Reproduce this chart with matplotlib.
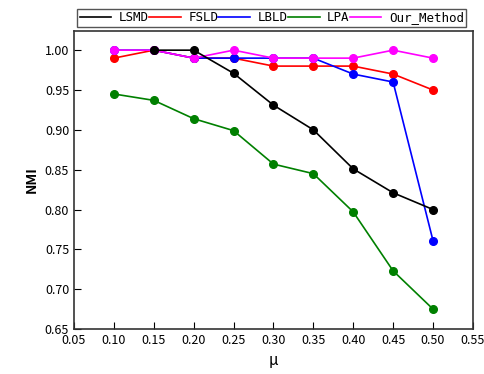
import matplotlib
matplotlib.use("Agg")
import matplotlib.pyplot as plt

plt.rcParams['font.family'] = ['Noto Sans CJK SC', 'DejaVu Sans']

# mixing parameter
mu = [0.10, 0.15, 0.20, 0.25, 0.30, 0.35, 0.40, 0.45, 0.50]

# LSMD has no visible point at 0.10
lsmd = [float('nan'), 1.00, 1.00, 0.971, 0.931, 0.90, 0.851, 0.821, 0.80]
fsld = [0.99, 1.00, 0.99, 0.99, 0.98, 0.98, 0.98, 0.97, 0.95]
lbld = [1.00, 1.00, 0.99, 0.99, 0.99, 0.99, 0.97, 0.96, 0.761]
lpa = [0.945, 0.937, 0.914, 0.899, 0.857, 0.845, 0.797, 0.723, 0.675]
ours = [1.00, 1.00, 0.99, 1.00, 0.99, 0.99, 0.99, 1.00, 0.99]

names = ["LSMD", "FSLD", "LBLD", "LPA", "Our_Method"]
colors = ["black", "red", "blue", "green", "magenta"]
series = [lsmd, fsld, lbld, lpa, ours]
# drawing order so overlapping points look like the original
zorders = [6, 3, 4, 3, 5]

xticks = [0.05, 0.10, 0.15, 0.20, 0.25, 0.30, 0.35, 0.40, 0.45, 0.50, 0.55]
yticks = [0.65, 0.70, 0.75, 0.80, 0.85, 0.90, 0.95, 1.00]

fig = plt.figure(figsize=(4.85, 3.74), dpi=100)
ax = fig.add_axes([0.1526, 0.1203, 0.8224, 0.7967])

lines = []
for vals, name, c, z in zip(series, names, colors, zorders):
    ax.plot(mu, vals, color=c, linewidth=1.2, marker='o', markersize=5.5, zorder=z)
    lines.append(plt.Line2D([], [], color=c, linewidth=1.2))

ax.set_xlim(0.05, 0.55)
ax.set_ylim(0.65, 1.024)
ax.set_xticks(xticks)
ax.set_xticklabels(["%.2f" % t for t in xticks])
ax.set_yticks(yticks)
ax.set_yticklabels(["%.2f" % t for t in yticks])
ax.tick_params(direction='in', length=5, labelsize=9, top=False, right=False)
for s in ax.spines.values():
    s.set_color('#333333')
    s.set_linewidth(1.2)

ax.set_xlabel("μ", fontsize=11)
ax.set_ylabel("NMI", fontsize=10, fontweight='bold')

fig.legend(lines, names, loc='upper left', bbox_to_anchor=(0.159, 0.977),
           ncol=5, frameon=True, fancybox=False, edgecolor='#555555',
           prop={'family': 'DejaVu Sans Mono', 'size': 9},
           handlelength=2.55, handletextpad=0.6, columnspacing=0.0,
           borderpad=0.2, borderaxespad=0, framealpha=1)

fig.savefig("out.png", dpi=100)
